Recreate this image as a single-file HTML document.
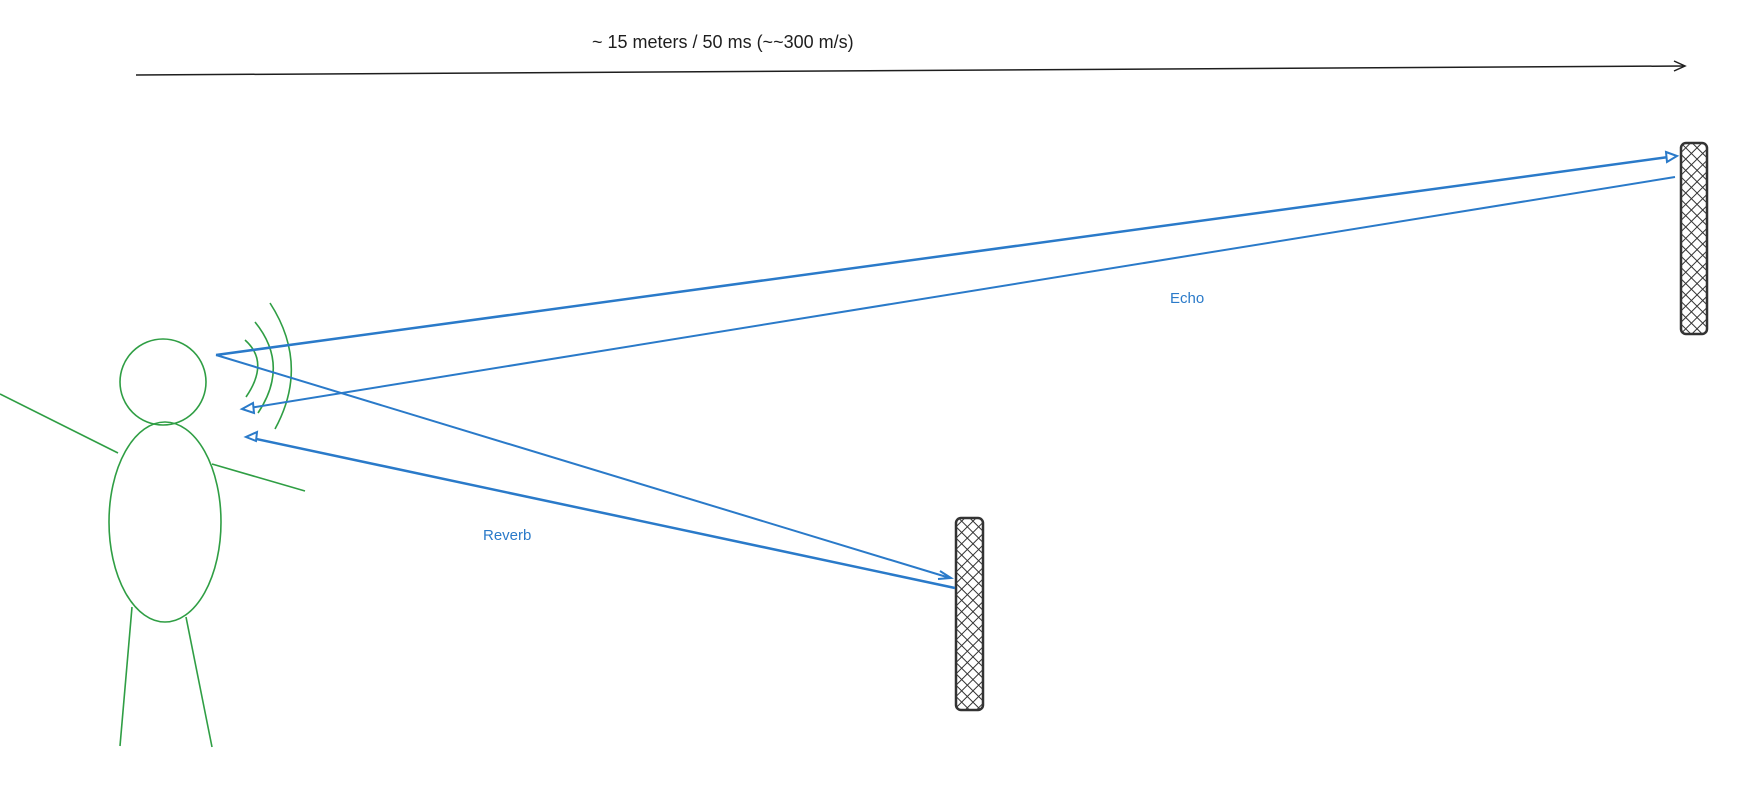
<!DOCTYPE html>
<html><head><style>
html,body{margin:0;padding:0;background:#fff;}
svg{display:block;}
text{font-family:"Liberation Sans",sans-serif;}
</style></head><body>
<svg width="1752" height="799" viewBox="0 0 1752 799" xmlns="http://www.w3.org/2000/svg">
<defs>
<pattern id="h" width="8" height="8" patternUnits="userSpaceOnUse" patternTransform="rotate(45)">
<path d="M0 0H8M0 0V8" stroke="#333" stroke-width="2" fill="none"/>
</pattern>
</defs>
<text x="592" y="48" font-size="18" fill="#1e1e1e">~ 15 meters / 50 ms (~~300 m/s)</text>
<line x1="136" y1="75" x2="1684" y2="66" stroke="#1e1e1e" stroke-width="1.5"/>
<path d="M1674 61 L1685 66 L1674 71" stroke="#1e1e1e" stroke-width="1.5" fill="none"/>
<rect x="1681" y="143" width="26" height="191" rx="5" fill="url(#h)" stroke="#333" stroke-width="2.5"/>
<rect x="956" y="518" width="27" height="192" rx="5" fill="url(#h)" stroke="#333" stroke-width="2.5"/>
<g stroke="#2f9e44" stroke-width="1.6" fill="none">
<circle cx="163" cy="382" r="43"/>
<ellipse cx="165" cy="522" rx="56" ry="100"/>
<line x1="0" y1="394" x2="118" y2="453"/>
<line x1="212" y1="464" x2="305" y2="491"/>
<line x1="132" y1="607" x2="120" y2="746"/>
<line x1="186" y1="617" x2="212" y2="747"/>
<path d="M245 340 Q270 362 246 397"/>
<path d="M255 322 Q290 365 258 413"/>
<path d="M270 303 Q310 365 275 429"/>
</g>
<g stroke="#2a7ac9" fill="none">
<path d="M216 355 L1676 156" stroke-width="2.5"/>
<path d="M1666 152 L1677 156 L1667 162 Z" stroke-width="2" fill="#fff"/>
<path d="M216 355 L950 578" stroke-width="2"/>
<path d="M940 571 L951 578 L938 579" stroke-width="2"/>
<path d="M1675 177 L243 409" stroke-width="2"/>
<path d="M253 403 L242 409 L254 413 Z" stroke-width="2" fill="#fff"/>
<path d="M955 588 L247 437" stroke-width="2.5"/>
<path d="M257 432 L246 437 L256 441 Z" stroke-width="2" fill="#fff"/>
</g>
<text x="1170" y="303" font-size="15" fill="#2a7ac9">Echo</text>
<text x="483" y="540" font-size="15" fill="#2a7ac9">Reverb</text>
</svg>
</body></html>
